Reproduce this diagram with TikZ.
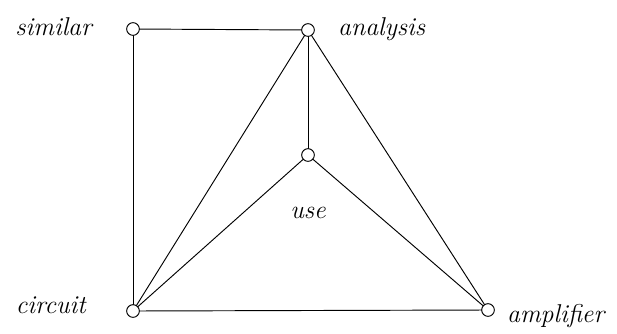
\documentclass[tikz,border=0pt]{standalone}
\usetikzlibrary{positioning}
\tikzset{
  vertex/.style={circle,draw,fill=white,line width=0.8pt,minimum size=0.38cm,inner sep=0pt},
  word/.style={font=\fontsize{22}{26}\selectfont\itshape,inner sep=0pt},
  edge/.style={line width=0.8pt}
}
\begin{document}
\begin{tikzpicture}[x=0.03cm,y=-0.03cm]
  \useasboundingbox (0,0) rectangle (617,333);
  % vertices
  \coordinate (similar) at (133,29);
  \coordinate (analysis) at (308,30);
  \coordinate (use) at (308,155);
  \coordinate (circuit) at (133,311);
  \coordinate (amplifier) at (488,310);
  % edges
  \draw[edge] (similar) -- (analysis);
  \draw[edge] (similar) -- (circuit);
  \draw[edge] (analysis) -- (use);
  \draw[edge] (analysis) -- (circuit);
  \draw[edge] (analysis) -- (amplifier);
  \draw[edge] (use) -- (circuit);
  \draw[edge] (use) -- (amplifier);
  \draw[edge] (circuit) -- (amplifier);
  \foreach \v in {similar,analysis,use,circuit,amplifier}
    \node[vertex] (\v-dot) at (\v) {};
  % labels
  \node[word,anchor=east] (similar-lbl) at (92,27) {similar};
  \node[word,anchor=west] (analysis-lbl) at (338,29) {analysis};
  \node[word] (use-lbl) at (308,213) {use};
  \node[word,anchor=east] (circuit-lbl) at (86,305) {circuit};
  \node[word,anchor=west] (amplifier-lbl) at (507,316) {amplifier};
\end{tikzpicture}
\end{document}
